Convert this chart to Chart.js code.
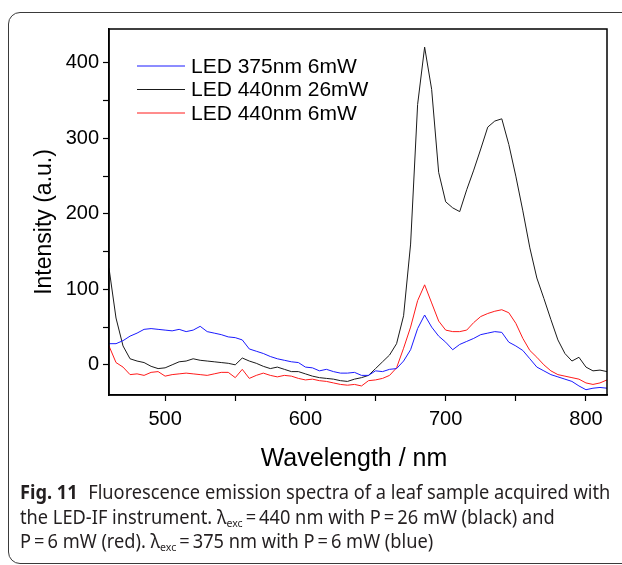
<!DOCTYPE html>
<html>
<head>
<meta charset="utf-8">
<script src="https://cdn.jsdelivr.net/npm/chart.js@4.4.1/dist/chart.umd.min.js"></script>
<style>
  html, body { margin: 0; padding: 0; background: #fff; }
  #wrap { position: relative; width: 622px; height: 565px; overflow: hidden; }
  #card { position: absolute; left: 8px; top: 12px; width: 680px; height: 552px; border: 1px solid #3a3a3a; border-radius: 12px; box-sizing: border-box; }
  #chartBox { position: absolute; left: 0; top: 0; width: 622px; height: 480px; }
  #caption { position: absolute; left: 20px; top: 480px; font-family: "Noto Sans", sans-serif; font-size: 19px; color: #231f20; line-height: 24.5px; white-space: nowrap; transform-origin: 0 0; }
  #caption b { font-weight: 700; margin-right: 6px; }
  #caption sub { font-size: 11px; vertical-align: -3px; line-height: 0; }
</style>
</head>
<body>
<div id="wrap">
  <div id="card"></div>
  <div id="chartBox"><canvas id="myChart" width="622" height="480"></canvas></div>
  <div id="caption">
    <div id="cap1"><b>Fig. 11</b> Fluorescence emission spectra of a leaf sample acquired with</div>
    <div>the LED-IF instrument. λ<sub>exc</sub>&#8201;=&#8201;440 nm with P&#8201;=&#8201;26 mW (black) and</div>
    <div>P&#8201;=&#8201;6 mW (red). λ<sub>exc</sub>&#8201;=&#8201;375 nm with P&#8201;=&#8201;6 mW (blue)</div>
  </div>
</div>
<script>
// wavelength grid (nm)
const wavelength = [460, 465, 470, 475, 480, 485, 490, 495, 500, 505, 510, 515, 520, 525, 530, 535, 540, 545,
    550, 555, 560, 565, 570, 575, 580, 585, 590, 595, 600, 605, 610, 615, 620, 625, 630, 635, 640, 645,
    650, 655, 660, 665, 670, 675, 680, 685, 690, 695, 700, 705, 710, 715, 720, 725, 730, 735, 740, 745,
    750, 755, 760, 765, 770, 775, 780, 785, 790, 795, 800, 805, 810, 815];

// intensities (a.u.)
const led375_6mW = [28, 28, 32, 38, 42, 47, 48, 47, 46, 45, 47, 44, 46, 51, 44, 42, 40, 37,
    36, 33, 21, 18, 15, 11, 8, 6, 4, 3, -3, -4, -8, -6, -9, -11, -11, -10, -14, -14,
    -8, -9, -6, -5, 5, 20, 48, 66, 50, 38, 30, 20, 27, 31, 35, 40, 42, 44, 43, 30,
    25, 19, 8, -3, -8, -13, -16, -19, -22, -28, -33, -31, -30, -31];
const led440_26mW = [128, 62, 25, 8, 5, 3, -2, -5, -4, 0, 4, 5, 8, 6, 5, 4, 3, 2,
    0, 9, 5, 2, -2, -5, -3, -6, -9, -9, -12, -15, -17, -18, -19, -21, -22, -19, -17, -14,
    -5, 4, 13, 28, 65, 160, 345, 421, 365, 255, 216, 208, 203, 232, 258, 286, 315, 323, 326, 292,
    250, 204, 155, 115, 88, 60, 33, 15, 5, 10, -3, -8, -7, -9];
const led440_6mW = [25, 3, -3, -13, -12, -14, -10, -9, -15, -13, -12, -11, -12, -13, -14, -12, -10, -10,
    -17, -6, -18, -14, -11, -14, -16, -14, -15, -18, -20, -19, -21, -22, -24, -26, -27, -26, -28, -21,
    -20, -18, -14, -4, 22, 50, 85, 106, 82, 58, 46, 44, 44, 46, 56, 64, 68, 71, 73, 69,
    55, 35, 19, 10, 0, -8, -13, -15, -17, -19, -24, -26, -24, -20];

const seriesNames = ['LED 375nm 6mW', 'LED 440nm 26mW', 'LED 440nm 6mW'];
const seriesColors = ['#1a1aff', '#1a1a1a', '#ff1a1a'];
const xTitle = 'Wavelength / nm';
const yTitle = 'Intensity (a.u.)';

const tickFont = { family: '"Liberation Sans", Arial, sans-serif', size: 20 };

function toPoints(vals) {
    return wavelength.map((w, i) => ({ x: w, y: vals[i] }));
}

// frame, legend inside the plot and axis titles
const decorPlugin = {
    id: 'decor',
    afterDraw(chart) {
        const ctx = chart.ctx;
        const a = chart.chartArea;
        ctx.save();
        ctx.strokeStyle = '#000';
        ctx.lineWidth = 1.5;
        ctx.strokeRect(a.left, a.top, a.right - a.left, a.bottom - a.top);

        ctx.font = '21px "Liberation Sans", Arial, sans-serif';
        ctx.fillStyle = '#000';
        ctx.textBaseline = 'middle';
        chart.data.datasets.forEach((ds, i) => {
            const y = a.top + 37 + i * 23.5;
            ctx.strokeStyle = ds.borderColor;
            ctx.lineWidth = 1;
            ctx.beginPath();
            ctx.moveTo(a.left + 28, y);
            ctx.lineTo(a.left + 76, y);
            ctx.stroke();
            ctx.fillText(ds.label, a.left + 82, y + 1);
        });

        ctx.font = '25px "Liberation Sans", Arial, sans-serif';
        ctx.textAlign = 'center';
        ctx.textBaseline = 'alphabetic';
        ctx.fillText(xTitle, (a.left + a.right) / 2 - 4, 466);

        ctx.font = '23px "Liberation Sans", Arial, sans-serif';
        ctx.translate(51, 222);
        ctx.rotate(-Math.PI / 2);
        ctx.fillText(yTitle, 0, 0);
        ctx.restore();
    }
};

const chartData = {
    datasets: [
        { label: seriesNames[0], data: toPoints(led375_6mW), borderColor: seriesColors[0] },
        { label: seriesNames[1], data: toPoints(led440_26mW), borderColor: seriesColors[1] },
        { label: seriesNames[2], data: toPoints(led440_6mW), borderColor: seriesColors[2] }
    ]
};
chartData.datasets.forEach(ds => {
    ds.borderWidth = 1;
    ds.pointRadius = 0;
    ds.tension = 0;
    ds.fill = false;
});

new Chart('myChart', {
    type: 'line',
    data: chartData,
    options: {
        responsive: false,
        animation: false,
        layout: { padding: { top: 29, right: 15, left: 0, bottom: 0 } },
        plugins: { legend: { display: false }, tooltip: { enabled: false } },
        scales: {
            x: {
                type: 'linear',
                min: 460,
                max: 815,
                afterFit(scale) { scale.height = 85; },
                border: { color: '#000', width: 1.5 },
                grid: { drawOnChartArea: false, tickLength: 6, color: '#000', tickWidth: 1.2 },
                ticks: {
                    stepSize: 50,
                    includeBounds: false,
                    maxRotation: 0,
                    autoSkip: false,
                    padding: 6,
                    color: '#000',
                    font: tickFont,
                    callback: v => (v % 100 === 0 ? v : '')
                }
            },
            y: {
                min: -40,
                max: 445,
                afterFit(scale) { scale.width = 109; },
                border: { color: '#000', width: 1.5 },
                grid: { drawOnChartArea: false, tickLength: 6, color: '#000', tickWidth: 1.2 },
                ticks: {
                    stepSize: 50,
                    includeBounds: false,
                    autoSkip: false,
                    padding: 4,
                    color: '#000',
                    font: tickFont,
                    callback: v => (v % 100 === 0 ? v : '')
                }
            }
        }
    },
    plugins: [decorPlugin]
});

// squeeze the caption to the printed width
const cap = document.getElementById('caption');
const w1 = document.getElementById('cap1').scrollWidth;
cap.style.transform = 'scaleX(' + (590 / w1) + ')';
</script>
</body>
</html>
